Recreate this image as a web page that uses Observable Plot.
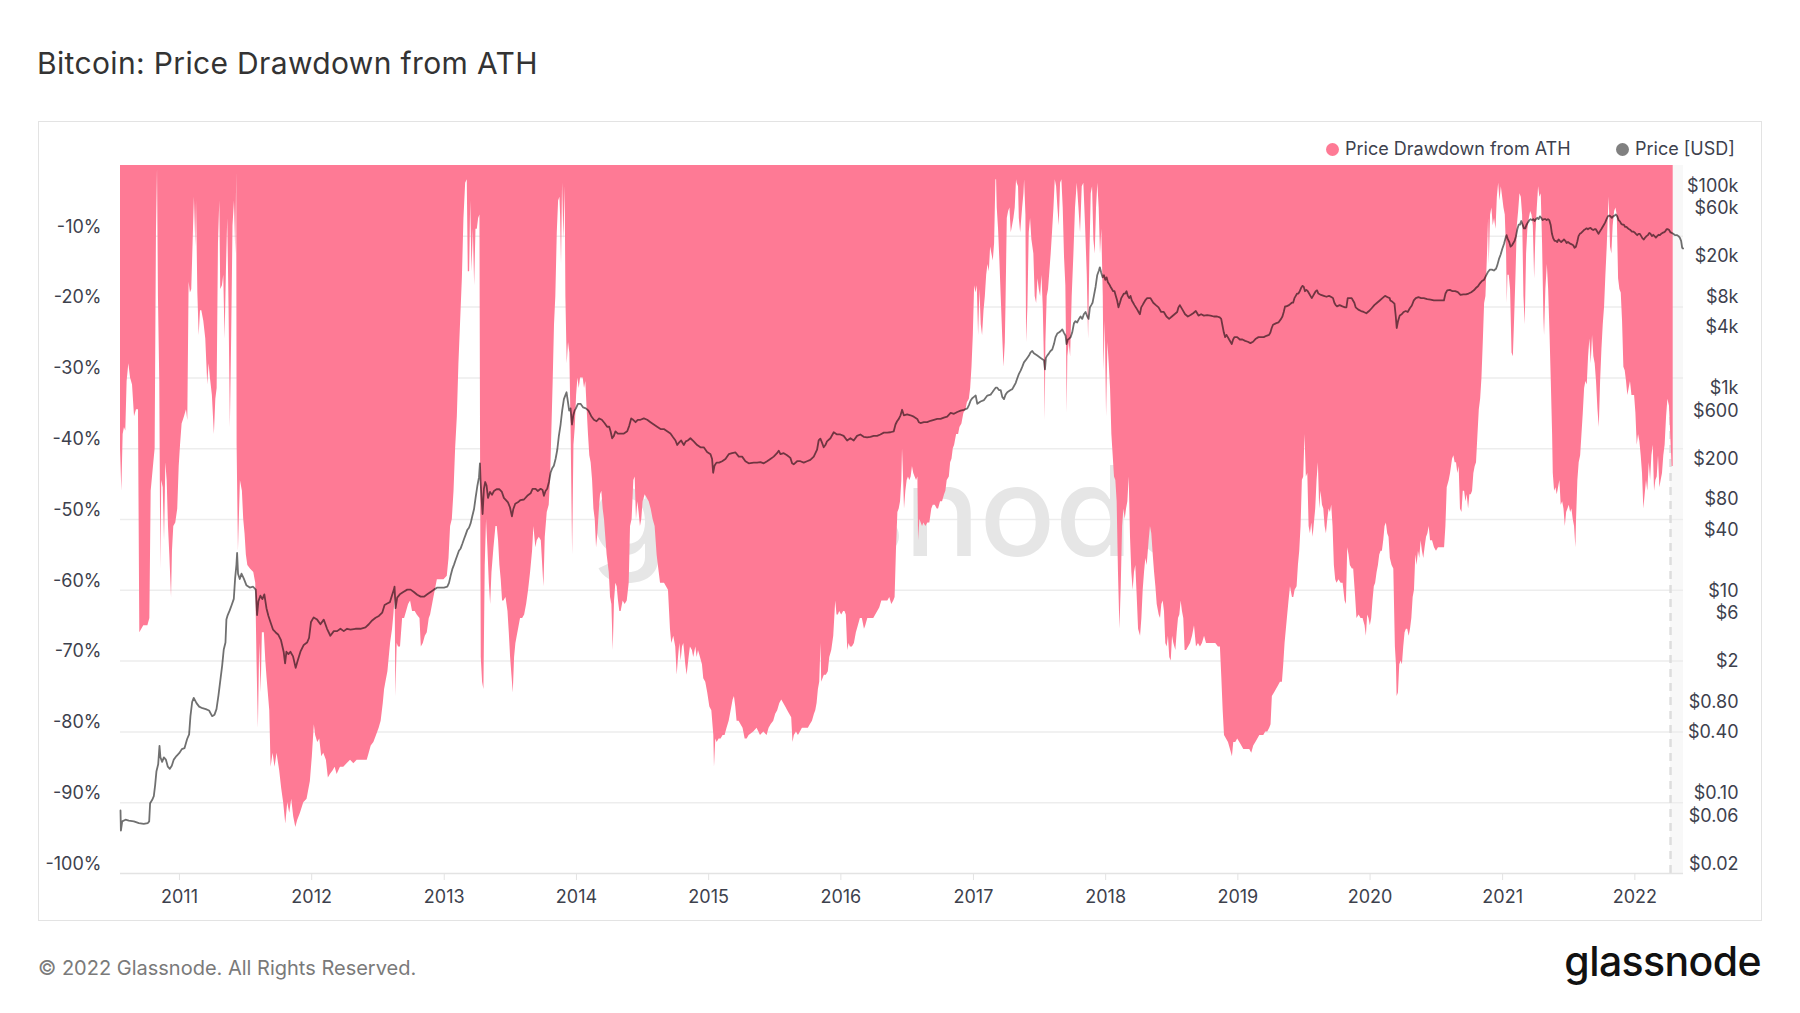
<!DOCTYPE html>
<html>
<head>
<meta charset="utf-8">
<script src="https://cdn.jsdelivr.net/npm/d3@7"></script>
<script src="https://cdn.jsdelivr.net/npm/@observablehq/plot@0.6"></script>
<style>
html, body { margin: 0; padding: 0; background: #fff; }
body { width: 1800px; height: 1013px; position: relative; overflow: hidden; font-family: Inter, "Noto Sans", sans-serif; }
.abs { position: absolute; white-space: nowrap; line-height: 1; }
#chart { position: absolute; left: 0; top: 0; }
#title { left: 37px; top: 47.5px; font-size: 30px; font-weight: 400; letter-spacing: 0.35px; color: #333; }
#frame { left: 38px; top: 121px; width: 1724px; height: 800px; border: 1px solid #e3e3e3; box-sizing: border-box; pointer-events: none; }
.dot { width: 13px; height: 13px; border-radius: 50%; }
.leg { font-size: 18px; color: #3d414d; }
#copy { left: 38px; top: 958px; font-size: 20px; color: #7a7a7a; }
#logo { right: 39px; top: 941px; font-size: 41px; font-weight: 500; color: #111; letter-spacing: -0.6px; }
</style>
</head>
<body>
<div id="chart"></div>
<div class="abs" id="title">Bitcoin: Price Drawdown from ATH</div>
<div class="abs" id="frame"></div>
<div class="abs dot" style="left:1325.5px;top:142.5px;background:#fe7a95"></div>
<div class="abs leg" style="left:1345px;top:140px">Price Drawdown from ATH</div>
<div class="abs dot" style="left:1615.5px;top:142.5px;background:#808080"></div>
<div class="abs leg" style="left:1635px;top:140px">Price [USD]</div>
<div class="abs" id="copy">© 2022 Glassnode. All Rights Reserved.</div>
<div class="abs" id="logo">glassnode</div>
<script>
// Drawdown from ATH [%] : [decimal year, value]
const drawdown = [
[2010.554,-40],[2010.564,-46],[2010.574,-38],[2010.584,-37],[2010.594,-37.5],[2010.604,-30.5],[2010.617,-28],[2010.630,-30],[2010.645,-31],[2010.660,-35.5],[2010.675,-34.5],[2010.690,-34.5],[2010.700,-66],[2010.730,-65],[2010.761,-65],[2010.776,-64],[2010.786,-46],[2010.796,-44],[2010.806,-42],[2010.816,-40],[2010.826,-9.5],[2010.834,-0.5],[2010.841,-18.5],[2010.851,-30.5],[2010.859,-57],[2010.866,-44.5],[2010.877,-45.5],[2010.887,-53],[2010.897,-42],[2010.907,-44.5],[2010.917,-51],[2010.927,-55],[2010.940,-61],[2010.947,-54.5],[2010.957,-51],[2010.972,-50.5],[2010.987,-48.5],[2010.998,-42.5],[2011.008,-39.5],[2011.020,-36.5],[2011.038,-35.5],[2011.053,-34.5],[2011.063,-36],[2011.073,-16.5],[2011.083,-18],[2011.093,-17.5],[2011.103,-11],[2011.113,-4.5],[2011.124,-11.5],[2011.129,-5],[2011.139,-18],[2011.149,-24],[2011.159,-20.5],[2011.169,-20.5],[2011.184,-22],[2011.199,-24.5],[2011.214,-31],[2011.224,-28],[2011.234,-30],[2011.249,-32.5],[2011.264,-38],[2011.275,-33],[2011.285,-31.5],[2011.295,-11],[2011.305,-5],[2011.312,-17.5],[2011.325,-17],[2011.335,-15.5],[2011.345,-24.5],[2011.355,-15],[2011.365,-7.5],[2011.375,-20],[2011.385,-37],[2011.395,-24],[2011.405,-8.5],[2011.416,-5],[2011.426,-12.5],[2011.433,-1],[2011.436,-39.5],[2011.446,-54.5],[2011.461,-44.5],[2011.476,-46],[2011.486,-50],[2011.496,-52],[2011.506,-55],[2011.517,-56.5],[2011.537,-57],[2011.562,-57.5],[2011.577,-59],[2011.587,-70.5],[2011.597,-79.5],[2011.607,-67.5],[2011.618,-74.5],[2011.627,-66],[2011.642,-66],[2011.653,-70],[2011.663,-72.5],[2011.683,-77],[2011.693,-85],[2011.708,-83],[2011.723,-85],[2011.738,-83],[2011.758,-85.5],[2011.773,-88],[2011.788,-90],[2011.804,-93],[2011.819,-90],[2011.834,-91.5],[2011.849,-89.5],[2011.864,-92],[2011.880,-93.5],[2011.894,-92.5],[2011.915,-91.5],[2011.940,-90],[2011.965,-89.5],[2011.990,-87],[2012.005,-83.5],[2012.020,-79],[2012.030,-80.5],[2012.046,-81.5],[2012.061,-81],[2012.076,-83.5],[2012.091,-83],[2012.111,-84],[2012.126,-86.5],[2012.141,-86],[2012.162,-85.5],[2012.177,-85],[2012.192,-86],[2012.217,-85],[2012.242,-85],[2012.267,-84.5],[2012.293,-84],[2012.318,-84.5],[2012.343,-84],[2012.368,-84],[2012.393,-84],[2012.419,-84],[2012.434,-83],[2012.449,-82],[2012.469,-81.5],[2012.489,-80.5],[2012.509,-79.5],[2012.524,-78.5],[2012.540,-76],[2012.550,-74],[2012.560,-73],[2012.575,-71.5],[2012.585,-69.5],[2012.595,-67.5],[2012.610,-65.5],[2012.620,-63.5],[2012.630,-61],[2012.635,-75],[2012.645,-67.5],[2012.655,-68],[2012.670,-68],[2012.686,-64],[2012.701,-64],[2012.716,-63],[2012.731,-62],[2012.746,-61.5],[2012.761,-63],[2012.781,-63],[2012.796,-63.5],[2012.817,-64],[2012.827,-68],[2012.842,-67.5],[2012.857,-66.5],[2012.872,-66],[2012.887,-64],
[2012.897,-63.5],[2012.922,-61],[2012.948,-58.5],[2012.973,-58.5],[2012.998,-58.5],[2013.023,-58],[2013.036,-55.5],[2013.048,-51],[2013.061,-50],[2013.074,-46],[2013.086,-40],[2013.099,-35.5],[2013.111,-28],[2013.124,-22],[2013.137,-16],[2013.149,-7.5],[2013.162,-2.5],[2013.174,-2],[2013.182,-15],[2013.192,-15],[2013.200,-5],[2013.210,-15],[2013.220,-9],[2013.230,-17],[2013.240,-9],[2013.250,-9],[2013.260,-7.5],[2013.270,-7],[2013.275,-42],[2013.280,-69.5],[2013.290,-73],[2013.300,-74],[2013.310,-56.5],[2013.320,-50],[2013.331,-54.5],[2013.341,-59],[2013.351,-62],[2013.361,-57.5],[2013.376,-54],[2013.391,-51],[2013.401,-51],[2013.411,-53],[2013.421,-56.5],[2013.431,-58.5],[2013.441,-61.5],[2013.451,-61.5],[2013.467,-61],[2013.482,-63],[2013.492,-66],[2013.502,-69.5],[2013.512,-72],[2013.522,-74.5],[2013.532,-69.5],[2013.542,-67.5],[2013.552,-66.5],[2013.562,-65.5],[2013.577,-64],[2013.593,-64],[2013.608,-63.5],[2013.623,-62],[2013.638,-60],[2013.653,-57.5],[2013.668,-54.5],[2013.678,-51],[2013.693,-54],[2013.703,-53],[2013.719,-52.5],[2013.734,-53],[2013.754,-59.5],[2013.764,-52.5],[2013.779,-49],[2013.794,-48],[2013.804,-44.5],[2013.814,-37.5],[2013.824,-30.5],[2013.834,-22.5],[2013.844,-18.5],[2013.855,-9.5],[2013.865,-5],[2013.875,-4.5],[2013.880,-7],[2013.887,-14],[2013.895,-2.5],[2013.905,-10.5],[2013.915,-3],[2013.920,-18.5],[2013.930,-28],[2013.940,-25],[2013.950,-26.5],[2013.960,-38],[2013.971,-55],[2013.981,-39.5],[2013.991,-37],[2014.001,-32.5],[2014.011,-30],[2014.021,-31.5],[2014.031,-30],[2014.041,-30],[2014.051,-30],[2014.061,-31.5],[2014.071,-30.5],[2014.081,-34.5],[2014.091,-38],[2014.101,-41],[2014.111,-42],[2014.122,-44.5],[2014.132,-48.5],[2014.142,-50],[2014.152,-54],[2014.162,-52],[2014.172,-49],[2014.182,-46.5],[2014.192,-46],[2014.202,-48.5],[2014.212,-50],[2014.222,-52.5],[2014.232,-55],[2014.248,-57.5],[2014.258,-61],[2014.268,-62],[2014.278,-68.5],[2014.288,-61.5],[2014.298,-59],[2014.308,-59.5],[2014.318,-61.5],[2014.328,-63],[2014.338,-63],[2014.353,-61.5],[2014.368,-62],[2014.384,-61.5],[2014.399,-59],[2014.409,-51],[2014.421,-50],[2014.434,-44.5],[2014.444,-44],[2014.454,-50],[2014.464,-47.5],[2014.474,-49],[2014.484,-51],[2014.494,-50],[2014.504,-47.5],[2014.520,-46.5],[2014.535,-47],[2014.550,-47.5],[2014.565,-48.5],[2014.580,-50],[2014.595,-51],[2014.610,-55],[2014.626,-57.5],[2014.636,-59],[2014.651,-59],[2014.666,-59],[2014.681,-59.5],[2014.696,-60],[2014.711,-65.5],[2014.721,-67.5],[2014.736,-66.5],[2014.751,-68],[2014.762,-72],[2014.772,-69.5],[2014.782,-67.5],[2014.792,-70],[2014.802,-68],[2014.812,-67.5],[2014.827,-70.5],[2014.837,-72],[2014.852,-69.5],[2014.862,-68],[2014.877,-68.5],[2014.887,-69.5],[2014.903,-68],[2014.913,-69.5],[2014.923,-68.5],[2014.938,-69.5],[2014.953,-70.5],[2014.963,-72.5],[2014.978,-73],[2014.993,-74.5],[2015.009,-76.5],[2015.024,-77],[2015.039,-80.5],[2015.044,-85],[2015.054,-81],[2015.064,-81.5],[2015.079,-81],[2015.094,-81],[2015.109,-80.5],[2015.124,-80.5],[2015.139,-79.5],[2015.155,-78.5],[2015.170,-77],[2015.185,-75.5],[2015.195,-75],[2015.205,-76.5],[2015.215,-78.5],[2015.230,-78.5],[2015.245,-79],[2015.260,-79.5],[2015.276,-81],[2015.291,-81],[2015.306,-80.5],
[2015.341,-80],[2015.366,-79.5],[2015.392,-80.5],[2015.417,-80],[2015.442,-80.5],[2015.457,-79.5],[2015.472,-79],[2015.492,-78.5],[2015.507,-77.5],[2015.522,-77],[2015.538,-76],[2015.553,-75.5],[2015.568,-76],[2015.583,-76.5],[2015.598,-77],[2015.613,-77.5],[2015.628,-78],[2015.638,-81.5],[2015.648,-80.5],[2015.664,-80],[2015.679,-80.5],[2015.694,-80],[2015.709,-79.5],[2015.724,-79.5],[2015.739,-79.5],[2015.754,-79.5],[2015.769,-79],[2015.785,-78.5],[2015.800,-77.5],[2015.810,-77],[2015.820,-76],[2015.830,-74],[2015.840,-73],[2015.850,-67.5],[2015.855,-73],[2015.865,-72.5],[2015.875,-72],[2015.890,-72],[2015.905,-71.5],[2015.916,-69.5],[2015.931,-68.5],[2015.946,-66.5],[2015.961,-61.5],[2015.971,-63.5],[2015.981,-63.5],[2015.991,-63],[2016.006,-63.5],[2016.021,-63],[2016.031,-63],[2016.041,-63.5],[2016.052,-68.5],[2016.062,-67.5],[2016.072,-68],[2016.087,-68],[2016.102,-67.5],[2016.117,-66],[2016.132,-65],[2016.147,-64],[2016.162,-64],[2016.178,-65.5],[2016.188,-65],[2016.203,-64],[2016.218,-64],[2016.233,-64],[2016.248,-64],[2016.263,-63.5],[2016.278,-63],[2016.293,-62.5],[2016.309,-61.5],[2016.324,-61.5],[2016.339,-61.5],[2016.354,-61.5],[2016.369,-61],[2016.384,-62],[2016.399,-61.5],[2016.409,-61],[2016.419,-54.5],[2016.430,-49],[2016.440,-48.5],[2016.450,-47.5],[2016.460,-44.5],[2016.465,-40],[2016.470,-42.5],[2016.480,-48.5],[2016.490,-46],[2016.500,-44.5],[2016.510,-44],[2016.520,-44.5],[2016.530,-44],[2016.540,-42.5],[2016.550,-43.5],[2016.560,-44],[2016.571,-44.5],[2016.581,-44],[2016.586,-53],[2016.596,-50],[2016.606,-50.5],[2016.616,-51],[2016.626,-50.5],[2016.641,-51],[2016.656,-50.5],[2016.671,-50.5],[2016.686,-48.5],[2016.697,-48],[2016.712,-48],[2016.727,-48.5],[2016.737,-48.5],[2016.752,-47.5],[2016.767,-47.5],[2016.782,-46.5],[2016.792,-46],[2016.802,-44.5],[2016.818,-44],[2016.828,-42],[2016.838,-41.5],[2016.848,-40],[2016.858,-39.5],[2016.873,-38],[2016.888,-38],[2016.898,-37],[2016.913,-36.5],[2016.928,-35],[2016.944,-34.5],[2016.954,-33.5],[2016.969,-33],[2016.979,-31.5],[2016.989,-28.5],[2016.999,-24],[2017.009,-17],[2017.019,-18],[2017.029,-17],[2017.039,-24],[2017.049,-17.5],[2017.059,-22.5],[2017.069,-24],[2017.080,-20.5],[2017.090,-18.5],[2017.100,-15.5],[2017.110,-14],[2017.120,-15],[2017.130,-11.5],[2017.140,-12.5],[2017.150,-13.5],[2017.160,-11],[2017.170,-2],[2017.175,-2],[2017.180,-6],[2017.190,-9],[2017.200,-13.5],[2017.210,-18.5],[2017.221,-24],[2017.231,-28.5],[2017.241,-25],[2017.246,-20],[2017.256,-7.5],[2017.266,-6.5],[2017.276,-6],[2017.286,-9.5],[2017.296,-8.5],[2017.306,-7.5],[2017.316,-6],[2017.326,-2],[2017.331,-2.5],[2017.341,-3],[2017.347,-7.5],[2017.357,-9.5],[2017.372,-6],[2017.382,-4],[2017.387,-2],[2017.397,-7],[2017.402,-25],[2017.412,-20],[2017.422,-9.5],[2017.432,-7.5],[2017.442,-10.5],[2017.457,-12.5],[2017.467,-18.5],[2017.478,-19.5],[2017.488,-16],[2017.498,-17.5],[2017.508,-18.5],[2017.518,-15.5],[2017.528,-20],[2017.538,-28.5],[2017.543,-36],[2017.548,-25],[2017.558,-18.5],[2017.568,-17.5],[2017.578,-15],[2017.588,-12.5],[2017.598,-9.5],[2017.609,-6],[2017.619,-2],[2017.629,-3],[2017.639,-6],[2017.649,-8.5],[2017.659,-2.5],[2017.669,-2],[2017.679,-6],[2017.689,-13],[2017.699,-17],[2017.704,-25],[2017.709,-35],[2017.714,-27],[2017.724,-25],
[2017.735,-27],[2017.747,-18.5],[2017.760,-12.5],[2017.772,-6],[2017.785,-2.5],[2017.798,-6],[2017.810,-9.5],[2017.823,-3],[2017.835,-2.5],[2017.848,-8.5],[2017.861,-15.5],[2017.871,-24.5],[2017.881,-12.5],[2017.891,-4],[2017.901,-3],[2017.911,-10.5],[2017.921,-12.5],[2017.931,-6],[2017.941,-2.5],[2017.951,-6],[2017.961,-12.5],[2017.971,-9],[2017.982,-18.5],[2017.987,-29],[2017.997,-22],[2018.007,-35.5],[2018.017,-25],[2018.027,-28],[2018.037,-31.5],[2018.047,-38],[2018.057,-41],[2018.067,-44],[2018.077,-44.5],[2018.087,-47.5],[2018.097,-57.5],[2018.108,-65.5],[2018.118,-59.5],[2018.128,-51],[2018.138,-48.5],[2018.148,-50],[2018.158,-48.5],[2018.168,-47.5],[2018.178,-44],[2018.188,-52.5],[2018.198,-57.5],[2018.208,-60],[2018.218,-57.5],[2018.228,-56.5],[2018.239,-61],[2018.249,-65.5],[2018.264,-66.5],[2018.274,-64],[2018.284,-60],[2018.294,-57.5],[2018.304,-55.5],[2018.314,-56.5],[2018.329,-53],[2018.339,-51],[2018.349,-52],[2018.360,-55],[2018.370,-57.5],[2018.380,-59.5],[2018.390,-62],[2018.405,-63.5],[2018.415,-64],[2018.425,-62],[2018.435,-61.5],[2018.445,-63],[2018.455,-67.5],[2018.465,-68],[2018.475,-66.5],[2018.485,-69.5],[2018.496,-70],[2018.506,-66.5],[2018.516,-67.5],[2018.531,-68.5],[2018.541,-66],[2018.551,-64],[2018.561,-63.5],[2018.571,-61.5],[2018.581,-63],[2018.591,-64],[2018.601,-68.5],[2018.612,-68.5],[2018.627,-68],[2018.642,-67.5],[2018.657,-66.5],[2018.672,-65],[2018.687,-68],[2018.702,-67.5],[2018.717,-68],[2018.732,-67.5],[2018.748,-66.5],[2018.763,-67.5],[2018.778,-67.5],[2018.793,-67.5],[2018.813,-67.5],[2018.833,-67.5],[2018.853,-68],[2018.868,-68],[2018.879,-72.5],[2018.889,-77],[2018.899,-80.5],[2018.914,-81],[2018.929,-81.5],[2018.944,-82.5],[2018.959,-83.5],[2018.969,-81.5],[2018.984,-81.5],[2018.999,-81],[2019.015,-81.5],[2019.030,-82],[2019.045,-82.5],[2019.060,-82.5],[2019.075,-82.5],[2019.090,-82.5],[2019.105,-83],[2019.120,-82],[2019.136,-81.5],[2019.151,-81],[2019.166,-80.5],[2019.181,-80.5],[2019.196,-80.5],[2019.211,-80],[2019.226,-80],[2019.241,-79.5],[2019.251,-79],[2019.261,-75],[2019.277,-74.5],[2019.292,-74],[2019.307,-73.5],[2019.322,-73],[2019.337,-73],[2019.347,-70.5],[2019.357,-67.5],[2019.367,-65.5],[2019.377,-63.5],[2019.387,-61.5],[2019.398,-59.5],[2019.413,-61],[2019.423,-61],[2019.433,-60],[2019.448,-59.5],[2019.458,-56.5],[2019.468,-54.5],[2019.478,-51],[2019.488,-44.5],[2019.498,-44],[2019.508,-38],[2019.518,-44],[2019.529,-43.5],[2019.539,-51],[2019.549,-52],[2019.559,-50.5],[2019.569,-52.5],[2019.579,-50.5],[2019.589,-48.5],[2019.599,-44.5],[2019.609,-42],[2019.619,-48.5],[2019.629,-46],[2019.640,-48],[2019.650,-48.5],[2019.660,-51],[2019.670,-52],[2019.680,-50],[2019.690,-48.5],[2019.700,-49],[2019.710,-48],[2019.720,-51],[2019.730,-56.5],[2019.740,-58.5],[2019.750,-59],[2019.765,-58.5],[2019.781,-59],[2019.796,-59],[2019.811,-61.5],[2019.821,-62],[2019.831,-54],[2019.841,-55],[2019.851,-56.5],[2019.866,-57],[2019.876,-57],[2019.891,-61],[2019.901,-64],[2019.917,-63.5],[2019.932,-64],[2019.947,-64],[2019.962,-65],[2019.972,-66.5],[2019.982,-63.5],[2019.992,-64],[2020.002,-65],[2020.012,-64],[2020.022,-61.5],[2020.032,-59.5],[2020.042,-59],[2020.053,-57.5],[2020.063,-56.5],[2020.073,-55],[2020.083,-54.5],[2020.093,-54.5],[2020.103,-53],[2020.113,-51],[2020.123,-50.5],[2020.133,-52],[2020.143,-52.5],
[2020.153,-55.5],[2020.166,-56.5],[2020.179,-57],[2020.191,-68],[2020.199,-70.5],[2020.204,-75],[2020.214,-74.5],[2020.224,-70.5],[2020.234,-70],[2020.244,-70.5],[2020.254,-68],[2020.264,-66],[2020.274,-65.5],[2020.284,-65.5],[2020.295,-66.5],[2020.305,-65.5],[2020.315,-64],[2020.325,-61],[2020.335,-60],[2020.345,-55],[2020.355,-56.5],[2020.365,-54.5],[2020.375,-55.5],[2020.385,-53],[2020.395,-54.5],[2020.405,-55.5],[2020.415,-54],[2020.426,-52.5],[2020.436,-52],[2020.446,-51],[2020.456,-53],[2020.471,-53],[2020.486,-54],[2020.501,-54.5],[2020.516,-54],[2020.531,-54],[2020.546,-54],[2020.562,-54],[2020.572,-51],[2020.582,-45.5],[2020.597,-44.5],[2020.607,-43.5],[2020.622,-41.5],[2020.632,-41],[2020.642,-42],[2020.652,-42],[2020.662,-43.5],[2020.672,-42.5],[2020.682,-48.5],[2020.693,-49],[2020.703,-46],[2020.713,-46],[2020.723,-47.5],[2020.733,-46.5],[2020.743,-48.5],[2020.753,-46.5],[2020.763,-46.5],[2020.773,-46],[2020.783,-43.5],[2020.793,-42.5],[2020.803,-42],[2020.814,-38],[2020.824,-34.5],[2020.834,-33],[2020.844,-30],[2020.854,-25],[2020.864,-19.5],[2020.874,-18.5],[2020.884,-13.5],[2020.894,-7.5],[2020.899,-14],[2020.909,-7],[2020.919,-6],[2020.929,-8.5],[2020.939,-7.5],[2020.950,-9],[2020.960,-4.5],[2020.970,-2.5],[2020.980,-5],[2020.990,-3],[2021.000,-4.5],[2021.010,-6],[2021.020,-7],[2021.030,-12.5],[2021.035,-19.5],[2021.040,-15.5],[2021.050,-15.5],[2021.060,-17.5],[2021.071,-26.5],[2021.081,-27],[2021.091,-21.5],[2021.101,-15.5],[2021.111,-8.5],[2021.121,-6.5],[2021.131,-4],[2021.141,-4.5],[2021.151,-7],[2021.161,-18.5],[2021.171,-22.5],[2021.181,-12.5],[2021.191,-9],[2021.202,-7.5],[2021.212,-6.5],[2021.222,-7],[2021.232,-8.5],[2021.242,-16],[2021.252,-9.5],[2021.262,-6],[2021.272,-3],[2021.282,-4.5],[2021.292,-4],[2021.302,-11],[2021.312,-21.5],[2021.317,-24],[2021.327,-17.5],[2021.338,-14],[2021.348,-17.5],[2021.358,-23.5],[2021.368,-30.5],[2021.378,-38],[2021.383,-43.5],[2021.393,-46],[2021.403,-45.5],[2021.413,-46.5],[2021.423,-45.5],[2021.433,-44.5],[2021.443,-48],[2021.454,-47.5],[2021.464,-48.5],[2021.474,-51],[2021.484,-49],[2021.494,-48.5],[2021.504,-48],[2021.514,-49],[2021.524,-48.5],[2021.534,-50],[2021.544,-51],[2021.554,-54],[2021.559,-50],[2021.569,-44.5],[2021.579,-42],[2021.590,-41],[2021.600,-38],[2021.610,-35],[2021.620,-31.5],[2021.630,-30.5],[2021.640,-31],[2021.650,-27],[2021.660,-24.5],[2021.670,-28],[2021.680,-24],[2021.690,-27],[2021.700,-28],[2021.710,-30.5],[2021.721,-34.5],[2021.731,-37],[2021.741,-30.5],[2021.751,-26],[2021.761,-22.5],[2021.771,-20],[2021.781,-15.5],[2021.791,-11.5],[2021.801,-6.5],[2021.806,-4.5],[2021.816,-11.5],[2021.826,-12.5],[2021.836,-8.5],[2021.847,-6.5],[2021.857,-6],[2021.867,-7],[2021.877,-16],[2021.887,-17.5],[2021.897,-18],[2021.907,-22],[2021.917,-28.5],[2021.927,-29],[2021.937,-30.5],[2021.947,-32.5],[2021.957,-31.5],[2021.967,-30.5],[2021.978,-32.5],[2021.988,-32.5],[2021.998,-32.5],[2022.008,-35],[2022.018,-39.5],[2022.028,-38],[2022.038,-39],[2022.048,-41],[2022.058,-43.5],[2022.068,-48.5],[2022.078,-46.5],[2022.088,-44.5],[2022.098,-46],[2022.109,-42],[2022.119,-44.5],[2022.129,-41],[2022.139,-39.5],[2022.149,-46],[2022.159,-44.5],[2022.169,-44],[2022.179,-41],[2022.189,-45.5],[2022.199,-44.5],[2022.209,-43.5],[2022.219,-41],[2022.229,-39.5],[2022.240,-35.5],[2022.250,-33],[2022.262,-34],[2022.282,-42.5],[2022.290,-42.5]
];

// Price [USD] : [decimal year, value]
const price = [
[2010.554,0.068],[2010.557,0.043],[2010.567,0.053],[2010.592,0.055],[2010.617,0.054],[2010.655,0.053],[2010.693,0.051],[2010.730,0.050],[2010.761,0.051],[2010.771,0.053],[2010.778,0.080],[2010.793,0.086],[2010.806,0.094],[2010.816,0.121],[2010.826,0.166],[2010.839,0.194],[2010.849,0.295],[2010.856,0.227],[2010.869,0.205],[2010.882,0.227],[2010.897,0.216],[2010.912,0.184],[2010.927,0.175],[2010.942,0.188],[2010.957,0.216],[2010.977,0.234],[2010.998,0.25],[2011.018,0.274],[2011.038,0.28],[2011.058,0.345],[2011.073,0.383],[2011.083,0.58],[2011.096,0.80],[2011.108,0.88],[2011.129,0.78],[2011.149,0.72],[2011.174,0.695],[2011.199,0.68],[2011.224,0.66],[2011.247,0.58],[2011.265,0.60],[2011.280,0.68],[2011.295,0.93],[2011.310,1.34],[2011.323,1.83],[2011.335,2.64],[2011.348,3.09],[2011.355,5.21],[2011.365,5.78],[2011.380,6.42],[2011.395,7.27],[2011.411,8.34],[2011.421,13.3],[2011.431,18.2],[2011.436,23.7],[2011.443,14.8],[2011.456,13.1],[2011.469,14.8],[2011.486,13.3],[2011.506,11.4],[2011.532,10.8],[2011.557,11.0],[2011.577,10.3],[2011.587,5.78],[2011.597,7.91],[2011.612,8.97],[2011.627,8.3],[2011.642,9.25],[2011.658,6.76],[2011.673,5.66],[2011.688,4.94],[2011.708,4.14],[2011.728,3.89],[2011.748,3.69],[2011.768,3.26],[2011.788,2.51],[2011.799,1.93],[2011.809,2.51],[2011.824,2.38],[2011.839,2.51],[2011.859,2.26],[2011.879,1.74],[2011.894,2.04],[2011.915,2.51],[2011.940,2.93],[2011.965,3.09],[2011.980,3.43],[2011.995,4.94],[2012.015,5.48],[2012.041,5.21],[2012.066,4.69],[2012.091,5.21],[2012.116,4.23],[2012.141,3.61],[2012.167,4.01],[2012.192,4.01],[2012.217,4.23],[2012.242,4.01],[2012.267,4.23],[2012.293,4.14],[2012.330,4.23],[2012.368,4.23],[2012.406,4.36],[2012.431,4.69],[2012.456,5.11],[2012.482,5.43],[2012.507,5.66],[2012.532,6.1],[2012.550,7.27],[2012.570,7.52],[2012.590,7.75],[2012.605,8.97],[2012.620,10.3],[2012.625,11.0],[2012.633,6.76],[2012.645,8.6],[2012.665,9.25],[2012.691,9.75],[2012.721,10.3],[2012.746,10.3],[2012.771,9.75],[2012.796,9.17],[2012.822,8.78],[2012.847,8.78],[2012.872,9.25],
[2012.897,9.75],[2012.922,10.3],[2012.948,10.8],[2012.973,10.8],[2012.998,10.8],[2013.023,11.0],[2013.036,12.0],[2013.048,14.1],[2013.061,16.4],[2013.074,18.2],[2013.086,20.2],[2013.099,22.5],[2013.111,24.9],[2013.124,26.3],[2013.137,29.2],[2013.149,32.4],[2013.162,36.0],[2013.174,39.9],[2013.187,42.1],[2013.200,46.7],[2013.212,54.6],[2013.225,64],[2013.237,83],[2013.250,108],[2013.263,133],[2013.270,182],[2013.275,119],[2013.283,79],[2013.290,57.5],[2013.300,102],[2013.310,119],[2013.320,110],[2013.331,83],[2013.346,95],[2013.361,89],[2013.376,97],[2013.396,101],[2013.416,101],[2013.436,95],[2013.451,83],[2013.467,79],[2013.482,75],[2013.497,67],[2013.512,54.6],[2013.522,64],[2013.537,72.5],[2013.557,75],[2013.577,79],[2013.603,80],[2013.628,87],[2013.653,92],[2013.668,102],[2013.691,102],[2013.708,97],[2013.729,102],[2013.744,99],[2013.754,87],[2013.766,97],[2013.779,102],[2013.792,119],[2013.804,147],[2013.817,163],[2013.829,172],[2013.842,201],[2013.855,248],[2013.867,340],[2013.880,440],[2013.892,603],[2013.905,783],[2013.918,869],[2013.925,916],[2013.935,743],[2013.945,603],[2013.955,635],[2013.966,440],[2013.976,543],[2013.986,603],[2013.996,635],[2014.011,705],[2014.031,705],[2014.051,649],[2014.071,635],[2014.091,603],[2014.112,532],[2014.132,490],[2014.152,474],[2014.172,505],[2014.192,490],[2014.212,455],[2014.232,418],[2014.248,418],[2014.258,377],[2014.270,322],[2014.283,340],[2014.295,377],[2014.313,358],[2014.333,358],[2014.359,358],[2014.384,377],[2014.399,427],[2014.414,505],[2014.429,490],[2014.447,464],[2014.464,490],[2014.484,490],[2014.510,505],[2014.535,490],[2014.560,464],[2014.585,440],[2014.610,418],[2014.636,397],[2014.661,397],[2014.686,377],[2014.711,358],[2014.731,329],[2014.749,306],[2014.762,276],[2014.777,293],[2014.792,306],[2014.812,276],[2014.827,300],[2014.842,306],[2014.862,322],[2014.887,300],[2014.913,276],[2014.938,262],[2014.963,262],[2014.988,236],[2015.014,224],[2015.026,201],[2015.034,147],[2015.044,172],[2015.059,185],[2015.079,185],[2015.102,191],[2015.127,201],[2015.152,224],[2015.177,229],[2015.203,233],[2015.228,212],[2015.253,212],[2015.278,191],[2015.303,182],
[2015.341,185],[2015.366,185],[2015.392,187],[2015.417,182],[2015.442,191],[2015.467,201],[2015.492,212],[2015.517,229],[2015.530,243],[2015.543,224],[2015.568,229],[2015.593,219],[2015.618,206],[2015.631,182],[2015.643,178],[2015.669,191],[2015.694,191],[2015.719,185],[2015.744,191],[2015.769,197],[2015.795,212],[2015.820,248],[2015.832,306],[2015.845,319],[2015.858,290],[2015.870,262],[2015.883,276],[2015.895,300],[2015.921,322],[2015.946,369],[2015.971,351],[2015.996,351],[2016.021,340],[2016.047,306],[2016.072,322],[2016.097,306],[2016.122,340],[2016.147,351],[2016.172,333],[2016.198,329],[2016.223,333],[2016.248,340],[2016.273,340],[2016.298,351],[2016.324,366],[2016.349,366],[2016.374,369],[2016.399,377],[2016.412,440],[2016.424,474],[2016.437,500],[2016.450,543],[2016.462,615],[2016.475,543],[2016.500,555],[2016.525,543],[2016.550,526],[2016.576,500],[2016.588,464],[2016.601,455],[2016.626,464],[2016.651,464],[2016.676,479],[2016.702,490],[2016.727,500],[2016.752,500],[2016.777,515],[2016.802,526],[2016.828,572],[2016.853,561],[2016.878,585],[2016.903,603],[2016.928,615],[2016.954,635],[2016.966,684],[2016.979,759],[2016.991,800],[2017.004,825],[2017.017,851],[2017.029,705],[2017.054,743],[2017.080,767],[2017.105,851],[2017.130,869],[2017.143,916],[2017.155,964],[2017.168,1016],[2017.180,1016],[2017.193,964],[2017.206,964],[2017.218,825],[2017.231,783],[2017.243,869],[2017.256,916],[2017.281,964],[2017.294,984],[2017.306,1049],[2017.319,1128],[2017.331,1253],[2017.344,1390],[2017.357,1496],[2017.369,1630],[2017.382,1810],[2017.395,1900],[2017.407,2000],[2017.420,2110],[2017.432,2270],[2017.445,2340],[2017.457,2220],[2017.483,2110],[2017.508,2000],[2017.533,1900],[2017.541,1540],[2017.548,2000],[2017.558,2110],[2017.571,2220],[2017.583,2340],[2017.596,2420],[2017.609,2740],[2017.621,3210],[2017.634,3480],[2017.646,3560],[2017.659,3670],[2017.672,3830],[2017.684,3560],[2017.697,3310],[2017.704,2740],[2017.714,3040],[2017.724,3100],
[2017.735,3210],[2017.747,3560],[2017.760,4390],[2017.772,4620],[2017.785,4480],[2017.798,4860],[2017.810,5130],[2017.823,4860],[2017.835,5400],[2017.848,5690],[2017.861,5130],[2017.871,4860],[2017.881,6320],[2017.891,6650],[2017.901,7020],[2017.911,8200],[2017.924,10100],[2017.936,13100],[2017.949,14600],[2017.956,15700],[2017.967,13800],[2017.977,12500],[2017.987,13100],[2017.997,11800],[2018.007,12500],[2018.017,11200],[2018.027,10700],[2018.037,10100],[2018.047,9600],[2018.057,9120],[2018.067,9120],[2018.077,8200],[2018.087,7390],[2018.097,6320],[2018.108,7020],[2018.118,7790],[2018.128,8200],[2018.138,8650],[2018.148,8650],[2018.158,9120],[2018.168,8200],[2018.178,7790],[2018.188,8200],[2018.198,7390],[2018.208,7020],[2018.218,6650],[2018.228,6320],[2018.239,6000],[2018.249,5690],[2018.259,5400],[2018.269,6320],[2018.279,6650],[2018.289,7020],[2018.299,7390],[2018.314,7790],[2018.339,7790],[2018.360,7020],[2018.380,6650],[2018.400,6320],[2018.420,5690],[2018.440,5690],[2018.460,5130],[2018.480,4860],[2018.501,5130],[2018.521,5400],[2018.541,5690],[2018.551,6320],[2018.561,6650],[2018.581,6000],[2018.601,5400],[2018.622,5130],[2018.642,5300],[2018.662,5520],[2018.682,5810],[2018.702,5240],[2018.722,5400],[2018.743,5240],[2018.768,5300],[2018.793,5240],[2018.818,5130],[2018.843,5130],[2018.863,5020],[2018.874,4860],[2018.884,4160],[2018.894,3560],[2018.904,3210],[2018.914,3380],[2018.924,3210],[2018.934,3040],[2018.944,2890],[2018.954,2740],[2018.964,3040],[2018.974,3210],[2018.995,3210],[2019.015,3040],[2019.035,3040],[2019.055,2950],[2019.075,2890],[2019.095,2800],[2019.115,2890],[2019.136,3100],[2019.156,3210],[2019.176,3210],[2019.196,3210],[2019.216,3310],[2019.236,3380],[2019.246,3560],[2019.256,3950],[2019.266,4250],[2019.287,4390],[2019.307,4480],[2019.327,4860],[2019.337,5130],[2019.347,5690],[2019.357,6460],[2019.367,6460],[2019.387,6650],[2019.408,7020],[2019.418,7020],[2019.428,7790],[2019.438,8200],[2019.448,8650],[2019.458,8650],[2019.468,9120],[2019.478,9800],[2019.488,10300],[2019.498,10100],[2019.508,9120],[2019.518,9400],[2019.529,9120],[2019.539,8650],[2019.549,8200],[2019.559,7790],[2019.569,8200],[2019.579,8650],[2019.589,9120],[2019.599,9300],[2019.609,8650],[2019.629,8380],[2019.650,8200],[2019.670,8040],[2019.690,8200],[2019.710,7960],[2019.720,7790],[2019.730,7020],[2019.740,6650],[2019.750,6460],[2019.770,6650],[2019.791,6460],[2019.811,6320],[2019.821,6320],[2019.831,7790],[2019.841,7790],[2019.861,7790],[2019.871,7390],[2019.881,7020],[2019.891,6320],[2019.911,6000],[2019.932,5810],[2019.952,5690],[2019.972,5520],[2019.992,5810],[2020.012,6190],[2020.032,6650],[2020.053,7020],[2020.073,7390],[2020.093,7790],[2020.113,8200],[2020.133,7960],[2020.148,7790],
[2020.153,7390],[2020.169,7160],[2020.184,6870],[2020.194,5130],[2020.201,3950],[2020.211,4620],[2020.224,5240],[2020.239,5400],[2020.254,5690],[2020.269,5810],[2020.284,5690],[2020.300,6190],[2020.315,6590],[2020.330,7390],[2020.345,7790],[2020.365,7960],[2020.385,7790],[2020.405,7790],[2020.431,7620],[2020.456,7540],[2020.481,7390],[2020.506,7390],[2020.531,7390],[2020.557,7390],[2020.569,8650],[2020.582,9300],[2020.602,9400],[2020.622,9120],[2020.642,9120],[2020.662,8920],[2020.682,8380],[2020.703,8470],[2020.723,8470],[2020.743,8650],[2020.763,8920],[2020.783,9300],[2020.798,9800],[2020.814,10200],[2020.829,10900],[2020.844,11500],[2020.859,11800],[2020.874,12900],[2020.889,14100],[2020.904,14900],[2020.919,14900],[2020.934,14600],[2020.950,15200],[2020.960,16500],[2020.972,18900],[2020.985,21000],[2020.997,23800],[2021.010,26700],[2021.023,30900],[2021.030,32600],[2021.040,29600],[2021.050,27900],[2021.060,25100],[2021.071,25900],[2021.081,27300],[2021.091,28700],[2021.101,31900],[2021.111,37300],[2021.121,41400],[2021.131,41400],[2021.141,45000],[2021.151,41400],[2021.161,38100],[2021.171,38100],[2021.181,41400],[2021.191,43600],[2021.202,45900],[2021.212,47000],[2021.222,45900],[2021.232,47000],[2021.242,45000],[2021.252,47000],[2021.262,48400],[2021.272,47000],[2021.282,50000],[2021.292,48400],[2021.302,45900],[2021.312,47000],[2021.322,47000],[2021.333,45900],[2021.343,47000],[2021.353,45900],[2021.363,41400],[2021.373,33600],[2021.383,30300],[2021.393,28700],[2021.403,28700],[2021.413,27900],[2021.423,29600],[2021.433,28700],[2021.443,27900],[2021.454,28700],[2021.464,29600],[2021.474,28700],[2021.484,27300],[2021.494,27900],[2021.504,27300],[2021.514,26700],[2021.524,26400],[2021.534,25900],[2021.544,24500],[2021.554,25100],[2021.564,27900],[2021.574,31900],[2021.584,33600],[2021.594,34300],[2021.604,35400],[2021.615,36600],[2021.625,37300],[2021.635,38100],[2021.645,37300],[2021.655,38100],[2021.665,38500],[2021.675,37300],[2021.685,36600],[2021.695,37300],[2021.705,37300],[2021.715,35400],[2021.725,33600],[2021.735,35400],[2021.746,37300],[2021.756,39300],[2021.766,41400],[2021.776,43600],[2021.786,47000],[2021.796,50000],[2021.806,51000],[2021.816,50000],[2021.826,48400],[2021.836,50000],[2021.847,51000],[2021.857,52100],[2021.867,50000],[2021.877,45900],[2021.887,44600],[2021.897,42300],[2021.907,41400],[2021.917,41400],[2021.927,39300],[2021.937,39300],[2021.947,38100],[2021.957,37300],[2021.967,36600],[2021.978,35400],[2021.988,35400],[2021.998,34700],[2022.008,33600],[2022.018,32600],[2022.028,33600],[2022.038,33600],[2022.048,31900],[2022.058,30300],[2022.068,29600],[2022.078,30900],[2022.088,31900],[2022.098,32600],[2022.109,34300],[2022.119,33600],[2022.129,31900],[2022.139,32900],[2022.149,31900],[2022.159,30900],[2022.169,31900],[2022.179,32900],[2022.189,32600],[2022.199,33600],[2022.209,34300],[2022.219,34700],[2022.229,35400],[2022.240,37300],[2022.250,37300],[2022.260,36600],[2022.270,34700],[2022.280,34300],[2022.290,33600],[2022.300,32900],[2022.310,32600],[2022.320,32600],[2022.330,31900],[2022.340,30900],[2022.350,28700],[2022.358,24500],[2022.365,24100]
];

const ddTicks = [-10, -20, -30, -40, -50, -60, -70, -80, -90, -100];
const priceTicks = [100000, 60000, 20000, 8000, 4000, 1000, 600, 200, 80, 40, 10, 6, 2, 0.8, 0.4, 0.1, 0.06, 0.02];
const priceLabels = ["$100k", "$60k", "$20k", "$8k", "$4k", "$1k", "$600", "$200", "$80", "$40", "$10", "$6", "$2", "$0.80", "$0.40", "$0.10", "$0.06", "$0.02"];
const yearTicks = [2011, 2012, 2013, 2014, 2015, 2016, 2017, 2018, 2019, 2020, 2021, 2022];
const xStart = 2010.554;
const xEnd = 2022.368;
const markerYear = 2022.270;
const priceDomain = [0.0162, 159000];

const PINK = "#fe7a95";
const AXIS_TEXT = "#3d414d";

function fromYear(y) {
  const Y = Math.floor(y);
  const a = Date.UTC(Y, 0, 1), b = Date.UTC(Y + 1, 0, 1);
  return new Date(a + (y - Y) * (b - a));
}

// secondary (log) axis for price mapped into the drawdown y-space
const priceY = d3.scaleLog().domain(priceDomain).range([-100, 0]);

const chart = Plot.plot({
  width: 1800,
  height: 1013,
  marginLeft: 120,
  marginRight: 117,
  marginTop: 165,
  marginBottom: 140,
  style: { background: "transparent", fontFamily: "Inter, 'Noto Sans', sans-serif", overflow: "visible" },
  x: { type: "utc", domain: [fromYear(xStart), fromYear(xEnd)] },
  y: { domain: [-100, 0] },
  marks: [
    Plot.rect([markerYear], { x1: d => fromYear(d), x2: () => fromYear(xEnd), y1: () => -100, y2: () => 0, fill: "#f8f8f8" }),
    Plot.ruleY(ddTicks.slice(0, -1), { stroke: "#ededed", strokeWidth: 1.5 }),
    Plot.text(["glassnode"], { text: d => d, frameAnchor: "middle", dx: -4, dy: 36, lineAnchor: "bottom", fontSize: 125, fontWeight: 500, fill: "#e6e6e6" }),
    Plot.ruleX([markerYear], { x: d => fromYear(d), stroke: "#dddddd", strokeWidth: 2.5, strokeDasharray: "8,6" }),
    Plot.areaY(drawdown, { x: d => fromYear(d[0]), y1: () => 0, y2: d => d[1], fill: PINK }),
    Plot.line(price, { x: d => fromYear(d[0]), y: d => priceY(d[1]), stroke: "#000", strokeOpacity: 0.56, strokeWidth: 1.8 }),
    Plot.ruleY([-100], { stroke: "#e3e3e3", strokeWidth: 1.5 }),
    Plot.axisX(yearTicks.map(y => fromYear(y)), { tickFormat: d => String(d.getUTCFullYear()), tickSize: 7, tickPadding: 10, stroke: "#e3e3e3", fill: AXIS_TEXT, fontSize: 18, fontVariant: "normal" }),
    Plot.axisY(ddTicks, { tickFormat: d => `${d}%`, tickSize: 0, tickPadding: 19, dy: -9.5, fill: AXIS_TEXT, fontSize: 18, fontVariant: "normal" }),
    Plot.text(priceTicks, { y: d => priceY(d), text: (d, i) => priceLabels[i], frameAnchor: "right", textAnchor: "end", dx: 55, fill: AXIS_TEXT, fontSize: 18, fontVariant: "normal" })
  ]
});
document.getElementById("chart").appendChild(chart);
</script>
</body>
</html>
